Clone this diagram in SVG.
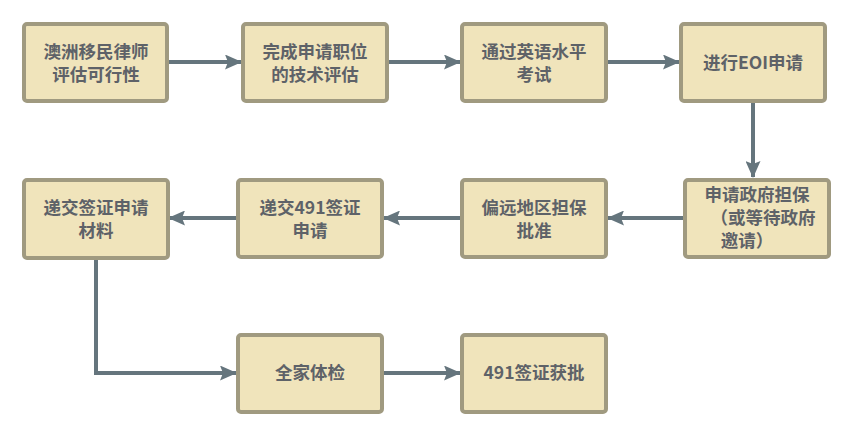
<svg xmlns="http://www.w3.org/2000/svg" width="854" height="437" viewBox="0 0 854 437">
<defs>
<style>
.n rect{fill:#f0e4bb;stroke:#a09a80;stroke-width:4}
.n text{font-family:"Noto Sans CJK SC","Noto Sans",sans-serif;font-weight:bold;font-size:17.5px;fill:#5e6268;text-anchor:middle}
.c path{fill:none;stroke:#65757d;stroke-width:4}
</style>
<marker id="a" markerWidth="17" markerHeight="15" refX="16" refY="7.5" orient="auto" markerUnits="userSpaceOnUse">
<path d="M0,0 L17,7.5 L0,15 L3,7.5 Z" fill="#65757d"/>
</marker>
</defs>
<rect width="854" height="437" fill="#ffffff"/>
<g class="c">
<path d="M168,62 H241" marker-end="url(#a)"/>
<path d="M387,62 H460" marker-end="url(#a)"/>
<path d="M606,62 H679" marker-end="url(#a)"/>
<path d="M753,101 V177" marker-end="url(#a)"/>
<path d="M685,218 H608" marker-end="url(#a)"/>
<path d="M462,218 H384" marker-end="url(#a)"/>
<path d="M238,218 H169" marker-end="url(#a)"/>
<path d="M96,258 V373 H236" marker-end="url(#a)"/>
<path d="M382,373 H460" marker-end="url(#a)"/>
</g>
<g id="n1" class="n"><rect x="24" y="24" width="143" height="77" rx="3"/><text x="96" y="58">澳洲移民律师</text><text x="96" y="81">评估可行性</text></g>
<g id="n2" class="n"><rect x="243" y="24" width="144" height="77" rx="3"/><text x="315" y="58">完成申请职位</text><text x="315" y="81">的技术评估</text></g>
<g id="n3" class="n"><rect x="462" y="24" width="144" height="77" rx="3"/><text x="534" y="58">通过英语水平</text><text x="534" y="81">考试</text></g>
<g id="n4" class="n"><rect x="681" y="24" width="144" height="77" rx="3"/><text x="753" y="69">进行EOI申请</text></g>
<g id="n5" class="n"><rect x="685" y="180" width="144" height="77" rx="3"/><text x="757" y="201">申请政府担保</text><text x="763" y="224">（或等待政府</text><text x="747" y="247">邀请）</text></g>
<g id="n6" class="n"><rect x="462" y="180" width="144" height="77" rx="3"/><text x="534" y="214">偏远地区担保</text><text x="534" y="237">批准</text></g>
<g id="n7" class="n"><rect x="238" y="180" width="144" height="77" rx="3"/><text x="310" y="214">递交491签证</text><text x="310" y="237">申请</text></g>
<g id="n8" class="n"><rect x="24" y="180" width="144" height="78" rx="3"/><text x="96" y="214">递交签证申请</text><text x="96" y="237">材料</text></g>
<g id="n9" class="n"><rect x="238" y="335" width="144" height="77" rx="3"/><text x="310" y="379">全家体检</text></g>
<g id="n10" class="n"><rect x="462" y="335" width="144" height="77" rx="3"/><text x="534" y="379">491签证获批</text></g>
</svg>
